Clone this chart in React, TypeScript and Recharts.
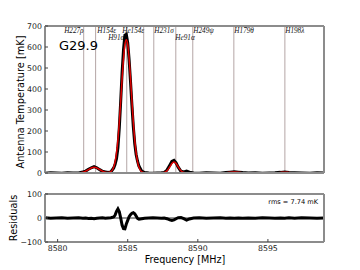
import { LineChart, Line, XAxis, YAxis, ReferenceLine } from "recharts";

// frequency grid [MHz]
const freqs = [
  8579.1, 8579.5, 8579.9, 8580.3, 8580.7, 8581.1, 8581.5, 8581.8, 8582.0, 8582.2,
  8582.4, 8582.6, 8582.8, 8583.0, 8583.2, 8583.4, 8583.6, 8583.8, 8584.0, 8584.1,
  8584.2, 8584.3, 8584.4, 8584.5, 8584.6, 8584.7, 8584.8, 8584.9, 8585.0, 8585.1,
  8585.2, 8585.3, 8585.4, 8585.5, 8585.6, 8585.7, 8585.8, 8586.0, 8586.2, 8586.5,
  8586.8, 8587.1, 8587.4, 8587.6, 8587.8, 8588.0, 8588.15, 8588.3, 8588.45, 8588.6,
  8588.8, 8589.0, 8589.2, 8589.4, 8589.7, 8590.1, 8590.6, 8591.1, 8591.6, 8592.0,
  8592.3, 8592.6, 8592.9, 8593.2, 8593.6, 8594.1, 8594.6, 8595.1, 8595.5, 8595.9,
  8596.2, 8596.5, 8596.9, 8597.4, 8598.0, 8598.5, 8599.0,
];

// model fit [mK]
const fitValues = [
  0, 0, 0, 0, 0, 0.1, 0.6, 3.7, 9, 16,
  24, 27, 24, 16, 9, 3.8, 2.2, 6.3, 28, 54,
  96, 158, 242, 343, 449, 544, 611, 635, 611, 544,
  449, 343, 242, 158, 96, 54, 28, 6, 1, 0,
  0, 0, 0.3, 2.3, 10.5, 29, 45, 52, 45, 29,
  10.5, 2.3, 0.3, 0, 0, 0, 0, 0, 0.2, 1.5,
  3.8, 5, 3.8, 1.5, 0.2, 0, 0, 0, 0.5, 2.5,
  4, 2.5, 0.5, 0, 0, 0, 0,
];

// observed spectrum [mK]
const dataValues = [
  -1, 1, 0, -1, 1, 0, 0, 5, 9, 18,
  25, 30, 25, 16, 8, 5, 2, 5, 24, 42,
  68, 120, 216, 343, 479, 588, 656, 660, 621, 539,
  435, 323, 220, 140, 88, 56, 33, 9, 2, 0,
  -1, 0, 1, 2, 14, 37, 55, 60, 48, 28,
  8, 5, 9, 4, 0, -1, 1, 0, -1, 2,
  4, 6, 4, 2, 0, 1, -1, 0, 1, 3,
  5, 2, 1, 0, -1, 1, 0,
];

// residuals [mK]
const residualValues = [
  1, -1, 0, 1, -1, 0, 1, -1, 0, -2,
  -1, -3, -1, 0, 1, -1, 0, 1, 4, 12,
  28, 38, 26, 0, -30, -44, -45, -25, -10, 5,
  14, 20, 22, 18, 8, -2, -5, -3, -1, 0,
  1, 0, -1, 0, -3, -8, -10, -8, -3, 1,
  2, -3, -9, -4, 0, 1, -1, 0, 1, -1,
  0, -1, 0, -1, 0, -1, 1, 0, -1, 0,
  -1, 1, -1, 1, 0, -1, 0,
];

const xTicks = [8580, 8585, 8590, 8595];
const tempTicks = [0, 100, 200, 300, 400, 500, 600, 700];
const resTicks = [-100, -50, 0, 50, 100];

// recombination line markers
const lineFreqs = [8581.86, 8582.71, 8584.93, 8586.14, 8586.86, 8588.43, 8589.64, 8592.57, 8596.21];
const tagNames = ["H227ρ", "H154ε", "H91α", "He154ε", "H231σ", "He91α", "H249ψ", "H179θ", "H198λ"];
const tagFreqs = [8580.43, 8582.8, 8583.57, 8584.57, 8586.86, 8588.36, 8589.64, 8592.57, 8596.2];
const tagRows = [0, 0, 1, 0, 0, 1, 0, 0, 0];

const rows = freqs.map((f, i) => ({
  f,
  fit: fitValues[i],
  obs: dataValues[i],
  res: residualValues[i],
}));

const FRAME = "#8c8c8c";
const TICK_FONT = { fontSize: 7.8, fill: "#222", fontFamily: "DejaVu Sans" };
const X_DOMAIN = [8579.1, 8599];

const LineTag = (props: any) => {
  const { viewBox, text, row } = props;
  if (!viewBox) return null;
  return (
    <text
      x={viewBox.x + 0.5}
      y={viewBox.y + 7 + row * 7}
      fontSize={7.2}
      fontStyle="italic"
      fontFamily="Liberation Serif"
      fill="#111"
    >
      {text}
    </text>
  );
};

export default function App() {
  return (
    <div style={{ position: "absolute", left: 0, top: 0, width: 360, height: 270, background: "#fff" }}>
      {/* spectrum panel */}
      <div style={{ position: "absolute", left: 0, top: 0 }}>
        <LineChart width={360} height={180} data={rows} margin={{ top: 25, right: 35, bottom: 0, left: 0 }}>
          <XAxis
            xAxisId="b"
            dataKey="f"
            type="number"
            domain={X_DOMAIN}
            ticks={xTicks}
            allowDataOverflow
            tick={false}
            tickSize={-3}
            tickLine={{ stroke: "#444" }}
            axisLine={{ stroke: FRAME, strokeWidth: 2 }}
            height={7}
          />
          <XAxis
            xAxisId="t"
            orientation="top"
            dataKey="f"
            type="number"
            domain={X_DOMAIN}
            ticks={xTicks}
            allowDataOverflow
            tick={false}
            tickSize={-3}
            tickLine={{ stroke: "#444" }}
            axisLine={{ stroke: FRAME, strokeWidth: 2 }}
            height={1}
          />
          <YAxis
            yAxisId="l"
            type="number"
            domain={[0, 700]}
            ticks={tempTicks}
            allowDataOverflow
            width={45}
            tick={TICK_FONT}
            tickSize={-3}
            tickMargin={6}
            tickLine={{ stroke: "#444" }}
            axisLine={{ stroke: FRAME, strokeWidth: 2 }}
          />
          <YAxis
            yAxisId="r"
            orientation="right"
            type="number"
            domain={[0, 700]}
            ticks={tempTicks}
            allowDataOverflow
            width={1}
            tick={false}
            tickSize={-3}
            tickLine={{ stroke: "#444" }}
            axisLine={{ stroke: FRAME, strokeWidth: 2 }}
          />
          {lineFreqs.map((f) => (
            <ReferenceLine key={"l" + f} xAxisId="b" yAxisId="l" x={f} stroke="#b4a6a6" strokeWidth={1} />
          ))}
          {tagFreqs.map((f, i) => (
            <ReferenceLine
              key={"t" + i}
              xAxisId="b"
              yAxisId="l"
              x={f}
              stroke="none"
              label={(p: any) => <LineTag {...p} text={tagNames[i]} row={tagRows[i]} />}
            />
          ))}
          <Line
            xAxisId="b"
            yAxisId="l"
            dataKey="obs"
            type="linear"
            stroke="#000"
            strokeWidth={3}
            dot={false}
            isAnimationActive={false}
          />
          <Line
            xAxisId="b"
            yAxisId="l"
            dataKey="fit"
            type="monotone"
            stroke="#e00000"
            strokeWidth={1.5}
            dot={false}
            isAnimationActive={false}
          />
        </LineChart>
      </div>

      {/* residual panel */}
      <div style={{ position: "absolute", left: 0, top: 180 }}>
        <LineChart width={360} height={80} data={rows} margin={{ top: 13, right: 35, bottom: 0, left: 0 }}>
          <XAxis
            xAxisId="b"
            dataKey="f"
            type="number"
            domain={X_DOMAIN}
            ticks={xTicks}
            allowDataOverflow
            tick={TICK_FONT}
            tickSize={-3}
            tickMargin={6}
            tickLine={{ stroke: "#444" }}
            axisLine={{ stroke: FRAME, strokeWidth: 2 }}
            height={18}
          />
          <XAxis
            xAxisId="t"
            orientation="top"
            dataKey="f"
            type="number"
            domain={X_DOMAIN}
            ticks={xTicks}
            allowDataOverflow
            tick={false}
            tickSize={-3}
            tickLine={{ stroke: "#444" }}
            axisLine={{ stroke: FRAME, strokeWidth: 2 }}
            height={1}
          />
          <YAxis
            yAxisId="l"
            type="number"
            domain={[-100, 100]}
            ticks={resTicks}
            allowDataOverflow
            width={45}
            tick={TICK_FONT}
            tickFormatter={(v: number) => (v < 0 ? "\u2212" + Math.abs(v) : String(v))}
            tickSize={-3}
            tickMargin={6}
            tickLine={{ stroke: "#444" }}
            axisLine={{ stroke: FRAME, strokeWidth: 2 }}
          />
          <YAxis
            yAxisId="r"
            orientation="right"
            type="number"
            domain={[-100, 100]}
            ticks={resTicks}
            allowDataOverflow
            width={1}
            tick={false}
            tickSize={-3}
            tickLine={{ stroke: "#444" }}
            axisLine={{ stroke: FRAME, strokeWidth: 2 }}
          />
          <ReferenceLine xAxisId="b" yAxisId="l" y={0} stroke="#000" strokeWidth={0.8} />
          <Line
            xAxisId="b"
            yAxisId="l"
            dataKey="res"
            type="linear"
            stroke="#000"
            strokeWidth={3}
            dot={false}
            isAnimationActive={false}
          />
        </LineChart>
      </div>

      {/* titles and annotations */}
      <svg width={360} height={270} style={{ position: "absolute", left: 0, top: 0, pointerEvents: "none" }}>
        <text x={59} y={50} fontSize={13} fontFamily="DejaVu Sans" fill="#000">G29.9</text>
        <text x={318} y={204} fontSize={6.6} fontFamily="DejaVu Sans" fill="#000" textAnchor="end">rms =  7.74 mK</text>
        <text
          x={20}
          y={102}
          fontSize={9.8}
          fontFamily="DejaVu Sans"
          fill="#000"
          textAnchor="middle"
          dominantBaseline="central"
          transform="rotate(-90 20 102)"
        >
          Antenna Temperature [mK]
        </text>
        <text
          x={13}
          y={218}
          fontSize={9.8}
          fontFamily="DejaVu Sans"
          fill="#000"
          textAnchor="middle"
          dominantBaseline="central"
          transform="rotate(-90 13 218)"
        >
          Residuals
        </text>
        <text x={185} y={263} fontSize={9.6} fontFamily="DejaVu Sans" fill="#000" textAnchor="middle">
          Frequency [MHz]
        </text>
      </svg>
    </div>
  );
}
